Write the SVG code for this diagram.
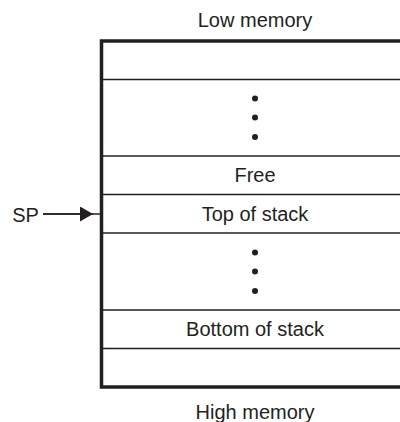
<svg xmlns="http://www.w3.org/2000/svg" width="400" height="422" viewBox="0 0 400 422">
  <defs>
    <style>
      text { font-family: "Liberation Sans", Arial, sans-serif; font-size: 20px; fill: #231f20; text-anchor: middle; }
      .frame { fill: none; stroke: #231f20; stroke-width: 3.5; }
      .div { stroke: #231f20; stroke-width: 1.4; fill: none; }
      .dot { fill: #231f20; }
      .conn { stroke: #231f20; stroke-width: 1.4; fill: none; }
    </style>
    <marker id="arr" markerWidth="13" markerHeight="15" refX="13" refY="7.5" orient="auto" markerUnits="userSpaceOnUse">
      <path d="M0,0 L13,7.5 L0,15 Z" fill="#231f20"/>
    </marker>
  </defs>
  <rect width="400" height="422" fill="#ffffff"/>
  <text x="255" y="26.5">Low memory</text>
  <text x="255" y="418.5">High memory</text>
  <g id="memory">
    <path class="frame" d="M402,41 L101.5,41 L101.5,387 L402,387"/>
    <line class="div" x1="103" y1="79.5" x2="400" y2="79.5"/>
    <line class="div" x1="103" y1="156" x2="400" y2="156"/>
    <line class="div" x1="103" y1="194.5" x2="400" y2="194.5"/>
    <line class="div" x1="103" y1="233" x2="400" y2="233"/>
    <line class="div" x1="103" y1="310" x2="400" y2="310"/>
    <line class="div" x1="103" y1="348.5" x2="400" y2="348.5"/>
  </g>
  <g id="dots-low">
    <circle class="dot" cx="255" cy="98.5" r="3"/>
    <circle class="dot" cx="255" cy="117.5" r="3"/>
    <circle class="dot" cx="255" cy="137" r="3"/>
  </g>
  <g id="free"><text x="255" y="182">Free</text></g>
  <g id="top-of-stack"><text x="255" y="220.5">Top of stack</text></g>
  <g id="dots-high">
    <circle class="dot" cx="255" cy="252.5" r="3"/>
    <circle class="dot" cx="255" cy="271.5" r="3"/>
    <circle class="dot" cx="255" cy="291" r="3"/>
  </g>
  <g id="bottom-of-stack"><text x="255" y="336">Bottom of stack</text></g>
  <g id="sp"><text x="25.5" y="221.5">SP</text></g>
  <g id="connectors">
    <line class="conn" x1="43" y1="214" x2="100" y2="214"/>
    <line class="conn" x1="43" y1="214" x2="93" y2="214" marker-end="url(#arr)"/>
  </g>
</svg>
